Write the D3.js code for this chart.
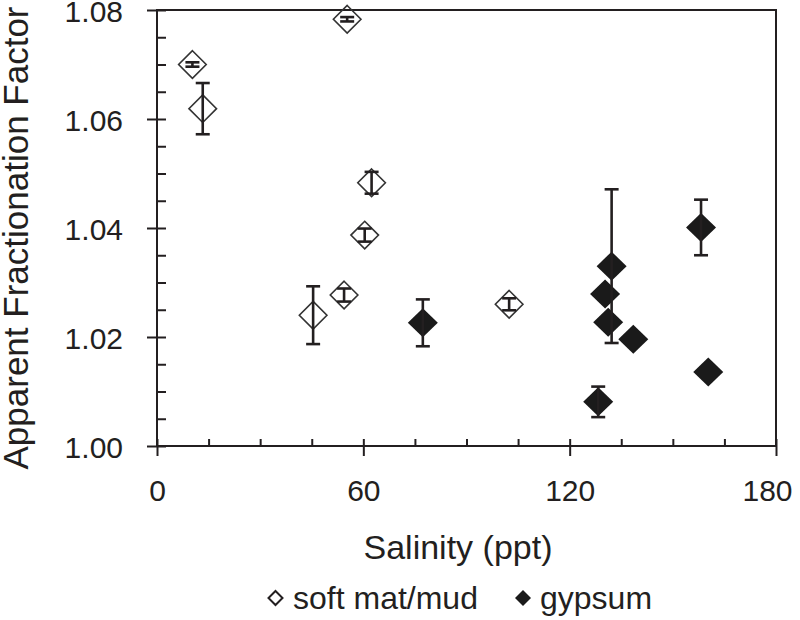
<!DOCTYPE html>
<html>
<head>
<meta charset="utf-8">
<script src="https://cdn.jsdelivr.net/npm/d3@7/dist/d3.min.js"></script>
<style>
  html, body { margin: 0; padding: 0; background: #fff; }
  svg { display: block; font-family: "Liberation Sans", Arial, Helvetica, sans-serif; }
</style>
</head>
<body>
<svg id="chart" width="800" height="620"></svg>
<script>
// ---- data ----
const mudSalinity = [10.3, 13.3, 55.3, 62.4, 60.4, 54.4, 45.4, 102.4];
const mudFactor   = [1.0700, 1.0619, 1.0783, 1.0483, 1.0387, 1.0277, 1.0240, 1.0260];
const mudError    = [0.0004, 0.0047, 0.0004, 0.0020, 0.0012, 0.0012, 0.0053, 0.0011];

const gypSalinity = [77.3, 132.2, 130.3, 131.2, 138.5, 128.3, 158.2, 160.3];
const gypFactor   = [1.0226, 1.0330, 1.0279, 1.0227, 1.0196, 1.0081, 1.0401, 1.0136];
const gypError    = [0.0043, 0.0141, 0, 0, 0, 0.0028, 0.0051, 0];

const xMajorTicks = [0, 60, 120, 180];
const xMinorTicks = [0, 15, 30, 45, 60, 75, 90, 105, 120, 135, 150, 165, 180];
const yMajorTicks = [1.00, 1.02, 1.04, 1.06, 1.08];
const yMinorTicks = [1.00, 1.005, 1.01, 1.015, 1.02, 1.025, 1.03, 1.035, 1.04, 1.045, 1.05, 1.055, 1.06, 1.065, 1.07, 1.075, 1.08];

const xTitle = "Salinity (ppt)";
const yTitle = "Apparent Fractionation Factor";
const legendLabels = ["soft mat/mud", "gypsum"];

// ---- setup ----
const ink = "#231f20";
const svg = d3.select("#chart");
const x = d3.scaleLinear().domain([0, 180]).range([157, 776]);
const y = d3.scaleLinear().domain([1.00, 1.08]).range([446, 10]);

const mud = mudSalinity.map((s, i) => ({ s, v: mudFactor[i], e: mudError[i] }));
const gyp = gypSalinity.map((s, i) => ({ s, v: gypFactor[i], e: gypError[i] }));

function diamond(w, h) {
  return `M0,${-h}L${w},0L0,${h}L${-w},0Z`;
}

// ---- axes ----
function styleAxis(g) {
  g.select(".domain").remove();
  g.selectAll(".tick line").attr("stroke", ink).attr("stroke-width", 2);
  g.selectAll(".tick text").attr("fill", ink).attr("font-size", 30);
}

// x minor (inside)
svg.append("g").attr("transform", `translate(0,${y(1.00)})`)
  .call(d3.axisBottom(x).tickValues(xMinorTicks).tickSize(-7).tickFormat(""))
  .call(styleAxis);
// x major (outside with labels)
const xMajor = svg.append("g").attr("transform", `translate(0,${y(1.00)})`)
  .call(d3.axisBottom(x).tickValues(xMajorTicks).tickSize(10).tickPadding(24).tickFormat(d3.format("d")))
  .call(styleAxis);
xMajor.selectAll(".tick text").filter(d => d === 180).attr("dx", -9);
// y minor (inside)
svg.append("g").attr("transform", `translate(${x(0)},0)`)
  .call(d3.axisLeft(y).tickValues(yMinorTicks).tickSize(-9).tickFormat(""))
  .call(styleAxis);
// y major (outside with labels)
svg.append("g").attr("transform", `translate(${x(0)},0)`)
  .call(d3.axisLeft(y).tickValues(yMajorTicks).tickSize(10).tickPadding(24).tickFormat(d3.format(".2f")))
  .call(styleAxis)
  .call(g => g.selectAll(".tick text").attr("dy", "0.38em"));

// frame
svg.append("rect")
  .attr("x", x(0)).attr("y", y(1.08))
  .attr("width", x(180) - x(0)).attr("height", y(1.00) - y(1.08))
  .attr("fill", "none").attr("stroke", ink).attr("stroke-width", 2);

// ---- markers ----
const plot = svg.append("g");

plot.selectAll(".gyp").data(gyp).join("path")
  .attr("class", "gyp")
  .attr("transform", d => `translate(${x(d.s)},${y(d.v)})`)
  .attr("d", diamond(15, 14.5))
  .attr("fill", "#1a1a1a");

plot.selectAll(".mud").data(mud).join("path")
  .attr("class", "mud")
  .attr("transform", d => `translate(${x(d.s)},${y(d.v)})`)
  .attr("d", diamond(13.8, 13.8))
  .attr("fill", "none")
  .attr("stroke", "#333")
  .attr("stroke-width", 1.6);

// error bars
const all = mud.concat(gyp).filter(d => d.e > 0);
const eb = plot.selectAll(".eb").data(all).join("g").attr("class", "eb")
  .attr("stroke", ink).attr("stroke-width", 2.6).attr("fill", "none");
eb.append("line")
  .attr("x1", d => x(d.s)).attr("x2", d => x(d.s))
  .attr("y1", d => y(d.v - d.e)).attr("y2", d => y(d.v + d.e));
eb.append("line")
  .attr("x1", d => x(d.s) - 7).attr("x2", d => x(d.s) + 7)
  .attr("y1", d => y(d.v + d.e)).attr("y2", d => y(d.v + d.e));
eb.append("line")
  .attr("x1", d => x(d.s) - 7).attr("x2", d => x(d.s) + 7)
  .attr("y1", d => y(d.v - d.e)).attr("y2", d => y(d.v - d.e));

// ---- titles ----
svg.append("text")
  .attr("x", 458).attr("y", 559)
  .attr("text-anchor", "middle")
  .attr("font-size", 34).attr("fill", ink)
  .text(xTitle);

svg.append("text")
  .attr("transform", "translate(28,238) rotate(-90)")
  .attr("text-anchor", "middle")
  .attr("font-size", 35).attr("fill", ink)
  .text(yTitle);

// ---- legend ----
const leg = svg.append("g");
leg.append("path")
  .attr("transform", "translate(275.5,598)")
  .attr("d", diamond(7, 7))
  .attr("fill", "#fff").attr("stroke", ink).attr("stroke-width", 2);
leg.append("text")
  .attr("x", 293).attr("y", 609)
  .attr("font-size", 32).attr("fill", ink)
  .text(legendLabels[0]);
leg.append("path")
  .attr("transform", "translate(523,598)")
  .attr("d", diamond(8, 8))
  .attr("fill", "#1a1a1a");
leg.append("text")
  .attr("x", 540).attr("y", 609)
  .attr("font-size", 32).attr("fill", ink)
  .text(legendLabels[1]);
</script>
</body>
</html>
